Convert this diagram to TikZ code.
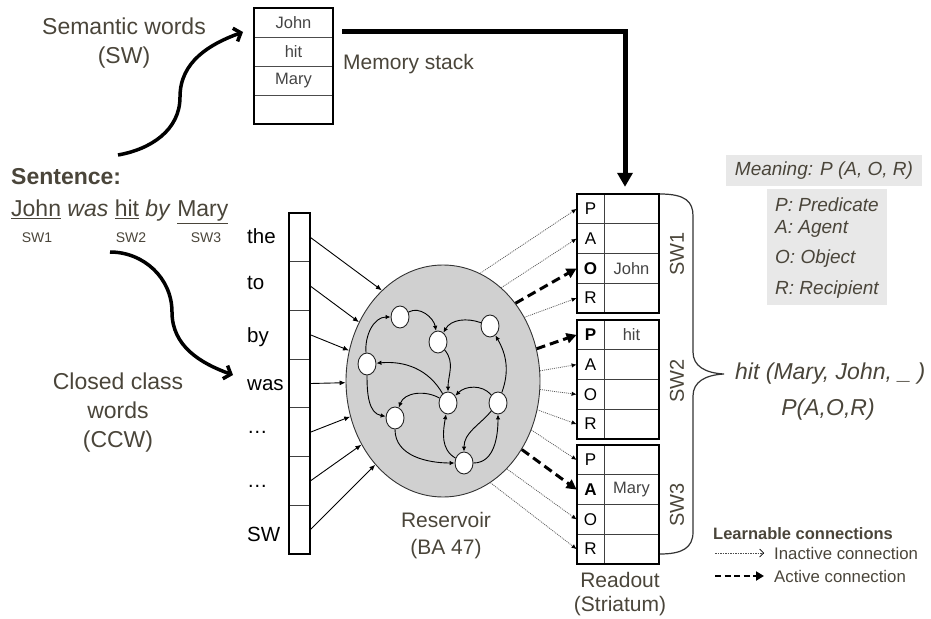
\documentclass[tikz,border=0pt]{standalone}
\usepackage{fontspec}
\setmainfont{Liberation Sans}
\usetikzlibrary{arrows.meta,shapes.geometric,calc}
\definecolor{txt}{RGB}{74,69,58}
\definecolor{cellt}{RGB}{68,68,68}
\definecolor{resfill}{RGB}{208,208,208}
\definecolor{boxfill}{RGB}{232,232,232}
\tikzset{
  lbl/.style={text=txt, font=\fontsize{23}{29}\selectfont, align=center, inner sep=0},
  mlbl/.style={text=txt, font=\fontsize{21}{27}\selectfont, align=center, inner sep=0},
  wlbl/.style={text=black, font=\fontsize{20.5}{24}\selectfont, anchor=west, inner sep=0},
  colcell/.style={draw=black!75, line width=0.8pt, minimum width=21pt, minimum height=48.7pt, inner sep=0},
  memcell/.style={draw=black!70, line width=0.8pt, minimum width=79pt, minimum height=29pt, inner sep=0, text=cellt, font=\fontsize{16.5}{18}\selectfont},
  lcell/.style={draw=black!75, line width=0.8pt, minimum width=27pt, minimum height=29.75pt, inner sep=0, text=black, font=\fontsize{17}{18}\selectfont},
  rcell/.style={draw=black!75, line width=0.8pt, minimum width=55pt, minimum height=29.75pt, inner sep=0, text=cellt, font=\fontsize{16.5}{18}\selectfont},
  blockbox/.style={draw=black, line width=2.4pt, minimum width=82pt, minimum height=119pt, inner sep=0},
  neuron/.style={ellipse, draw=black!85, line width=0.9pt, fill=white, minimum width=18pt, minimum height=22pt, inner sep=0},
  syn/.style={line width=0.9pt, -{Latex[length=5pt,width=4.5pt]}},
  inarrow/.style={line width=0.9pt, -{Latex[length=6pt,width=5pt]}},
  inactive/.style={draw=black!65, line width=0.75pt, dash pattern=on 1pt off 1pt, -{Latex[length=5pt,width=4.5pt,color=black]}},
  activec/.style={draw=black, line width=3pt, dash pattern=on 9pt off 5pt, -{Triangle[length=10pt,width=10pt]}},
  curvearrow/.style={line width=3.5pt, -{Straight Barb[length=6pt,width=14pt]}},
  memarrow/.style={line width=5pt, -{Triangle[length=14pt,width=15pt]}},
  mtext/.style={text=txt, font=\itshape\fontsize{19}{22}\selectfont, inner sep=0},
  legtext/.style={text=txt, font=\fontsize{16.8}{19}\selectfont, anchor=west, inner sep=0}
}
\begin{document}
\begin{tikzpicture}[x=1pt,y=1pt]
\useasboundingbox (0,0) rectangle (931,-618);

% ---------- Memory stack ----------
\node[memcell] (m1) at (293.5,-22.5) {John};
\node[memcell] (m2) at (293.5,-51.5) {hit};
\node[memcell] (m3) at (293.5,-80.5) {Mary};
\node[memcell] (m4) at (293.5,-109.5) {};
\node[draw=black, line width=2pt, minimum width=79pt, minimum height=116pt, inner sep=0] (mem) at (293.5,-66) {};
\node[mlbl, anchor=west] (memlbl) at (343,-64) {Memory stack};

% ---------- Left labels ----------
\node[lbl] (swlbl) at (124,-43) {Semantic words\\(SW)};
\node[text=txt, font=\bfseries\fontsize{23}{26}\selectfont, anchor=west, inner sep=0] (sent) at (11,-177) {Sentence:};
\node[text=txt, font=\fontsize{23}{26}\selectfont, anchor=west, inner sep=0] (sentline) at (11,-212)
  {\underline{John} \textit{was} \underline{hit} \textit{by} \underline{Mary}};
\node[text=txt, font=\fontsize{14}{16}\selectfont, inner sep=0] (sw1) at (37,-238) {SW1};
\node[text=txt, font=\fontsize{14}{16}\selectfont, inner sep=0] (sw2) at (131,-238) {SW2};
\node[text=txt, font=\fontsize{14}{16}\selectfont, inner sep=0] (sw3) at (206,-238) {SW3};
\node[lbl] (ccw) at (118,-413) {Closed class\\words\\(CCW)};

% curved arrows
\coordinate (a1s) at (118,-155);
\coordinate (a1e) at (243,-32);
\draw[curvearrow] (a1s) to[out=10,in=-90] (180,-97) to[out=90,in=200] (a1e);
\coordinate (a2s) at (110,-252);
\coordinate (a2e) at (233,-375);
\draw[curvearrow] (a2s) to[out=0,in=90] (172,-312) to[out=-90,in=160] (a2e);

% ---------- Input column ----------
\node[colcell] (c1) at (299.5,-237.4) {};
\node[colcell] (c2) at (299.5,-286.1) {};
\node[colcell] (c3) at (299.5,-334.8) {};
\node[colcell] (c4) at (299.5,-383.5) {};
\node[colcell] (c5) at (299.5,-432.2) {};
\node[colcell] (c6) at (299.5,-480.9) {};
\node[colcell] (c7) at (299.5,-529.6) {};
\draw[line width=2.2pt] (289,-213) rectangle (310,-554);
\node[wlbl] (w1) at (247,-236) {the};
\node[wlbl] (w2) at (247,-283) {to};
\node[wlbl] (w3) at (247,-337) {by};
\node[wlbl] (w4) at (247,-385) {was};
\node[wlbl] (w5) at (247,-432) {…};
\node[wlbl] (w6) at (247,-486) {…};
\node[wlbl] (w7) at (247,-534) {SW};

% ---------- Reservoir ----------
\node[ellipse, draw=black!80, line width=0.9pt, fill=resfill, minimum width=194pt, minimum height=232pt, inner sep=0] (res) at (443,-381) {};
\node[mlbl] (reslbl) at (446,-536) {Reservoir\\(BA 47)};

\draw[inarrow] (c1.east) -- (res.124.7);
\draw[inarrow] (c2.east) -- (res.145.7);
\draw[inarrow] (c3.east) -- (res.162);
\draw[inarrow] (c4.east) -- (res.181);
\draw[inarrow] (c5.east) -- (res.201);
\draw[inarrow] (c6.east) -- (res.218.7);
\draw[inarrow] (c7.east) -- (res.231);

\node[neuron] (n1) at (400,-317) {};
\node[neuron] (n2) at (438,-342) {};
\node[neuron] (n3) at (490,-326) {};
\node[neuron] (n4) at (367,-364) {};
\node[neuron] (n5) at (448,-403) {};
\node[neuron] (n6) at (498,-403) {};
\node[neuron] (n7) at (395,-418) {};
\node[neuron] (n8) at (464,-463) {};

\draw[syn] (n1) to[out=30,in=100] (n2);
\draw[syn] (n3) to[out=160,in=60] (n2);
\draw[syn] (n4) to[out=95,in=180] (n1);
\draw[syn] (n5) to[out=120,in=5] (n4);
\draw[syn] (n2) to[out=-50,in=90] (n5);
\draw[syn] (n6) to[out=130,in=45] (n5);
\draw[syn] (n6) to[out=70,in=-60] (n3);
\draw[syn] (n5) to[out=150,in=70] (n7);
\draw[syn] (n4) to[out=-90,in=170] (n7);
\draw[syn] (n7) to[out=-90,in=180] (n8);
\draw[syn] (n8) to[out=150,in=-100] (n5);
\draw[syn] (n6) to[out=-130,in=90] (n8);
\draw[syn] (n8) to[out=0,in=-90] (n6);

% ---------- Readout ----------
% block 1
\node[lcell] (b1p) at (590.5,-208.9) {P};
\node[lcell] (b1a) at (590.5,-238.6) {A};
\node[lcell, font=\bfseries\fontsize{17}{18}\selectfont] (b1o) at (590.5,-268.4) {O};
\node[lcell] (b1r) at (590.5,-298.1) {R};
\node[rcell] (v1p) at (631.5,-208.9) {};
\node[rcell] (v1a) at (631.5,-238.6) {};
\node[rcell] (v1o) at (631.5,-268.4) {John};
\node[rcell] (v1r) at (631.5,-298.1) {};
\node[blockbox] (blk1) at (618,-253.5) {};
% block 2
\node[lcell, font=\bfseries\fontsize{17}{18}\selectfont] (b2p) at (590.5,-334.9) {P};
\node[lcell] (b2a) at (590.5,-364.6) {A};
\node[lcell] (b2o) at (590.5,-394.4) {O};
\node[lcell] (b2r) at (590.5,-424.1) {R};
\node[rcell] (v2p) at (631.5,-334.9) {hit};
\node[rcell] (v2a) at (631.5,-364.6) {};
\node[rcell] (v2o) at (631.5,-394.4) {};
\node[rcell] (v2r) at (631.5,-424.1) {};
\node[blockbox] (blk2) at (618,-379.5) {};
% block 3
\node[lcell] (b3p) at (590.5,-459.9) {P};
\node[lcell, font=\bfseries\fontsize{17}{18}\selectfont] (b3a) at (590.5,-489.6) {A};
\node[lcell] (b3o) at (590.5,-519.4) {O};
\node[lcell] (b3r) at (590.5,-549.1) {R};
\node[rcell] (v3p) at (631.5,-459.9) {};
\node[rcell] (v3a) at (631.5,-489.6) {Mary};
\node[rcell] (v3o) at (631.5,-519.4) {};
\node[rcell] (v3r) at (631.5,-549.1) {};
\node[blockbox] (blk3) at (618,-504.5) {};

\node[text=txt, font=\fontsize{20}{22}\selectfont, rotate=90, inner sep=0] (sl1) at (677,-254) {SW1};
\node[text=txt, font=\fontsize{20}{22}\selectfont, rotate=90, inner sep=0] (sl2) at (677,-381) {SW2};
\node[text=txt, font=\fontsize{20}{22}\selectfont, rotate=90, inner sep=0] (sl3) at (677,-505) {SW3};

\node[text=txt, font=\fontsize{21}{24}\selectfont, align=center, inner sep=0] (rolbl) at (620,-594) {Readout\\(Striatum)};

% memory -> readout
\coordinate (mout) at ([xshift=8pt,yshift=-25pt]mem.north east);
\draw[memarrow] (mout) -| ([xshift=7pt,yshift=6pt]blk1.north);

% reservoir -> readout
\draw[inactive] (res.71) -- (b1p.west);
\draw[inactive] (res.58.8) -- (b1a.west);
\draw[activec] (res.47.3) -- (b1o.west);
\draw[inactive] (res.38.7) -- (b1r.west);
\draw[activec] (res.19.7) -- (b2p.west);
\draw[inactive] (res.6.6) -- (b2a.west);
\draw[inactive] (res.-5.8) -- (b2o.west);
\draw[inactive] (res.-17) -- (b2r.west);
\draw[inactive] (res.-29.5) -- (b3p.west);
\draw[activec] (res.-41.3) -- (b3a.west);
\draw[inactive] (res.-54.7) -- (b3o.west);
\draw[inactive] (res.-65.2) -- (b3r.west);

% brace
\coordinate (bt) at (660,-194);
\coordinate (bb) at (660,-554);
\coordinate (btip) at (724,-374);
\draw[draw=black!80, line width=1.2pt] (bt) .. controls (686,-194) and (693,-202) .. (693,-216)
  -- (693,-352) .. controls (693,-366) and (705,-373) .. (btip)
  .. controls (705,-375) and (693,-382) .. (693,-396)
  -- (693,-532) .. controls (693,-548) and (682,-554) .. (bb);

\node[text=txt, font=\itshape\fontsize{23}{26}\selectfont, anchor=west, inner sep=0] (res1) at (735,-374) {hit (Mary, John, \_ )};
\node[text=txt, font=\itshape\fontsize{23}{26}\selectfont, inner sep=0] (res2) at (828,-410) {P(A,O,R)};

% meaning boxes
\node[fill=boxfill, minimum width=196pt, minimum height=31pt, inner sep=0] (mbox) at (824,-170.5) {};
\node[mtext] (mt) at (mbox.center) {Meaning: P (A, O, R)};
\node[fill=boxfill, minimum width=120pt, minimum height=116pt, inner sep=0] (dbox) at (827,-247) {};
\node[mtext, anchor=west] (d1) at (775,-205) {P: Predicate};
\node[mtext, anchor=west] (d2) at (775,-229) {A: Agent};
\node[mtext, anchor=west] (d3) at (775,-259) {O: Object};
\node[mtext, anchor=west] (d4) at (775,-290) {R: Recipient};

% legend
\node[legtext, font=\bfseries\fontsize{16.5}{19}\selectfont] (leg) at (713,-534) {Learnable connections};
\coordinate (li1) at (715,-553);
\coordinate (li2) at (764,-553);
\draw[draw=black!70, line width=0.7pt, dash pattern=on 1.5pt off 1pt, -{Straight Barb[length=4pt,width=8pt,color=black]}] (li1) -- (li2);
\node[legtext] (legi) at (774,-553) {Inactive connection};
\coordinate (la1) at (715,-576);
\coordinate (la2) at (764,-576);
\draw[line width=2.6pt, dash pattern=on 6pt off 3.5pt, -{Triangle[length=8pt,width=9pt]}] (la1) -- (la2);
\node[legtext] (lega) at (774,-576) {Active connection};
\end{tikzpicture}
\end{document}
